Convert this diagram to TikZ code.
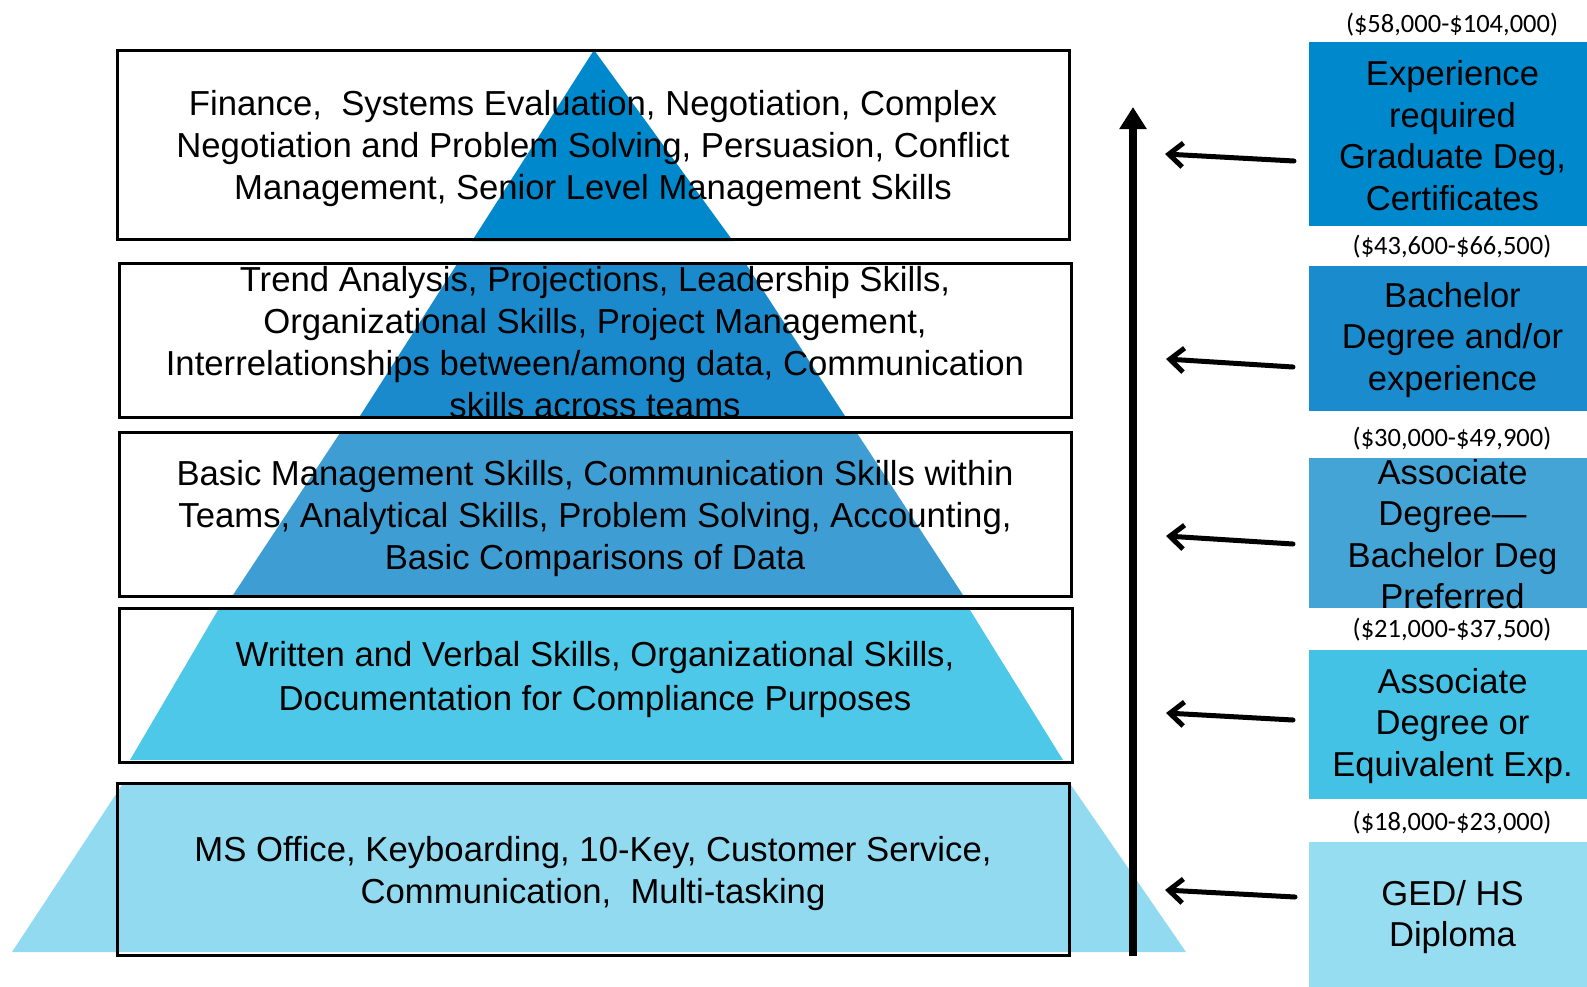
\documentclass[tikz,border=0pt]{standalone}
\usepackage{fontspec}
\setmainfont{Liberation Sans}
\newfontfamily\salfont{Carlito}
\usetikzlibrary{arrows.meta}
\definecolor{cA}{RGB}{0,136,204}
\definecolor{cB}{RGB}{26,140,205}
\definecolor{cC}{RGB}{68,164,214}
\definecolor{cD}{RGB}{68,194,229}
\definecolor{cE}{RGB}{150,221,241}
\definecolor{bB}{RGB}{26,138,204}
\definecolor{bC}{RGB}{62,158,212}
\definecolor{bD}{RGB}{78,200,232}
\definecolor{bE}{RGB}{145,218,240}
\tikzset{
  pbox/.style={draw=black, line width=3pt, inner sep=0pt},
  rbox/.style={draw=none, inner sep=0pt, minimum width=287pt},
  ptext/.style={align=center, font=\fontsize{34.7}{42}\selectfont, inner sep=0pt},
  rtext/.style={align=center, font=\fontsize{34.6}{41.5}\selectfont, inner sep=0pt},
  sal/.style={font=\salfont\fontsize{26.5}{30}\selectfont, inner sep=0pt},
  lvlarrow/.style={line width=5pt, line cap=round, -{Straight Barb[length=14pt,width=24pt,line width=5pt]}},
  uparrow/.style={line width=8pt, -{Triangle[length=22pt,width=26pt]}}
}
\begin{document}
\begin{tikzpicture}[x=1pt,y=-1pt]
\useasboundingbox (0,0) rectangle (1587,986);
\clip (0,0) rectangle (1587,986);
% pyramid bands
\fill[cA] (594,50) -- (472,241) -- (733,241) -- cycle;
\fill[bB] (457,264) -- (746,264) -- (845,416) -- (360,416) -- cycle;
\fill[bC] (340,433) -- (857,433) -- (963,595) -- (233,595) -- cycle;
\fill[bD] (218,610) -- (970,610) -- (1063,760) -- (130,760) -- cycle;
\fill[bE] (122,785) -- (1071,785) -- (1186,952) -- (12,952) -- cycle;
% boxes
\node[pbox, minimum width=952pt, minimum height=189pt] (p1) at (593,144.5) {};
\node[pbox, minimum width=952pt, minimum height=154pt] (p2) at (595,340) {};
\node[pbox, minimum width=952pt, minimum height=164pt] (p3) at (595,514) {};
\node[pbox, minimum width=953pt, minimum height=154pt] (p4) at (595.5,685) {};
\node[pbox, minimum width=952pt, minimum height=172pt] (p5) at (593,869) {};
% texts
\node[ptext] (t1) at (593,149) {Finance,~ Systems Evaluation, Negotiation, Complex\\Negotiation and Problem Solving, Persuasion, Conflict\\Management, Senior Level Management Skills};
\node[ptext] (t2) at (595,342.5) {Trend Analysis, Projections, Leadership Skills,\\Organizational Skills, Project Management,\\Interrelationships between/among data, Communication\\skills across teams};
\node[ptext] (t3) at (595,519) {Basic Management Skills, Communication Skills within\\Teams, Analytical Skills, Problem Solving, Accounting,\\Basic Comparisons of Data};
\node[ptext, font=\fontsize{34.7}{44}\selectfont] (t4) at (595,680) {Written and Verbal Skills, Organizational Skills,\\Documentation for Compliance Purposes};
\node[ptext] (t5) at (593,873.5) {MS Office, Keyboarding, 10-Key, Customer Service,\\Communication,~ Multi-tasking};
% right boxes
\node[rbox, fill=cA, minimum height=184pt] (r1) at (1452.5,134) {};
\node[rbox, fill=cB, minimum height=145pt] (r2) at (1452.5,338.5) {};
\node[rbox, fill=cC, minimum height=150pt] (r3) at (1452.5,533) {};
\node[rbox, fill=cD, minimum height=149pt] (r4) at (1452.5,724.5) {};
\node[rbox, fill=cE, minimum height=150pt] (r5) at (1452.5,917) {};
\node[rtext] (q1) at (1452.5,135.5) {Experience\\required\\Graduate Deg,\\Certificates};
\node[rtext] (q2) at (1452.5,340) {Bachelor\\Degree and/or\\experience};
\node[rtext] (q3) at (1452.5,534) {Associate\\Degree—\\Bachelor Deg\\Preferred};
\node[rtext] (q4) at (1452.5,726) {Associate\\Degree or\\Equivalent Exp.};
\node[rtext] (q5) at (1452.5,917) {GED/ HS\\Diploma};
% salary labels
\node[sal] (s1) at (1452,25) {(\$58,000-\$104,000)};
\node[sal] (s2) at (1452,246.5) {(\$43,600-\$66,500)};
\node[sal] (s3) at (1452,439) {(\$30,000-\$49,900)};
\node[sal] (s4) at (1452,630) {(\$21,000-\$37,500)};
\node[sal] (s5) at (1452,822.5) {(\$18,000-\$23,000)};
% vertical arrow
\coordinate (vb) at (1133,956);
\coordinate (vt) at (1133,107);
\draw[uparrow] (vb) -- (vt);
% level arrows
\coordinate (a1s) at (1294,161); \coordinate (a1e) at (1165,154);
\coordinate (a2s) at (1293,367); \coordinate (a2e) at (1166,359);
\coordinate (a3s) at (1293,544); \coordinate (a3e) at (1166,536);
\coordinate (a4s) at (1293,720); \coordinate (a4e) at (1166,713);
\coordinate (a5s) at (1295,897); \coordinate (a5e) at (1165,890);
\draw[lvlarrow] (a1s) -- (a1e);
\draw[lvlarrow] (a2s) -- (a2e);
\draw[lvlarrow] (a3s) -- (a3e);
\draw[lvlarrow] (a4s) -- (a4e);
\draw[lvlarrow] (a5s) -- (a5e);
\end{tikzpicture}
\end{document}
